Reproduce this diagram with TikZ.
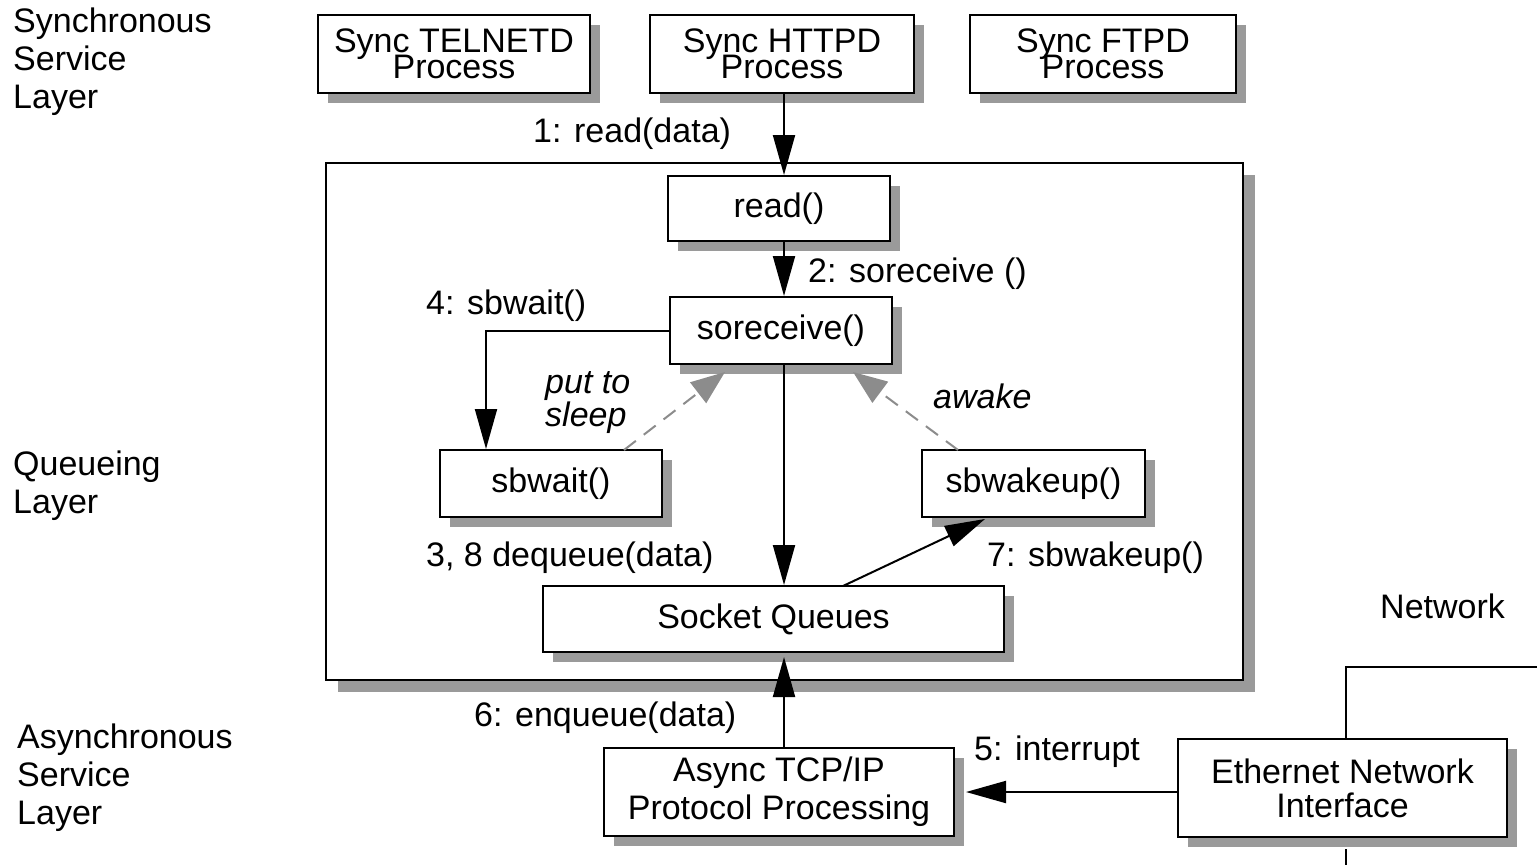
\documentclass[tikz,border=0pt]{standalone}
\usepackage{fontspec}
\setmainfont{Liberation Sans}
\usetikzlibrary{arrows.meta,shadows,calc}
\definecolor{shadowgray}{HTML}{9A9A9A}
\definecolor{dashgray}{HTML}{8C8C8C}
\newcommand{\fsz}[1]{\fontsize{34}{#1}\selectfont\lineskiplimit=-60pt\relax}
\tikzset{
  txt/.style={font=\fsz{26}},
  box/.style={draw, line width=2pt, fill=white, align=center, inner sep=0pt, txt,
    drop shadow={shadow xshift=10pt, shadow yshift=-10pt, fill=shadowgray, opacity=1}},
  lbl/.style={inner sep=0pt, anchor=west, txt},
  arr/.style={line width=2pt, -{Triangle[length=40pt,width=22pt]}},
  darr/.style={line width=2pt, dashgray, dash pattern=on 15pt off 10pt, -{Triangle[length=34pt,width=26pt]}},
  plain/.style={line width=2pt},
}
\begin{document}
\begin{tikzpicture}[x=1pt,y=-1pt]
\useasboundingbox (0,0) rectangle (1537,865);
% big queueing box
\node[draw, line width=2pt, fill=white, minimum width=917pt, minimum height=517pt, inner sep=0pt,
  drop shadow={shadow xshift=12pt, shadow yshift=-12pt, fill=shadowgray, opacity=1}] (qbox) at (784.5,421.5) {};
% top processes
\node[box, minimum width=272pt, minimum height=78pt, font=\fsz{26}] (telnet) at (454,54) {Sync TELNETD\\Process};
\node[box, minimum width=264pt, minimum height=78pt, font=\fsz{26}] (http) at (782,54) {Sync HTTPD\\Process};
\node[box, minimum width=266pt, minimum height=78pt, font=\fsz{26}] (ftp) at (1103,54) {Sync FTPD\\Process};
% queueing layer boxes
\node[box, minimum width=222pt, minimum height=65pt] (read) at (779,208.5) {read()};
\node[box, minimum width=222pt, minimum height=67pt] (sorecv) at (781,330.5) {soreceive()};
\node[box, minimum width=222pt, minimum height=67pt] (sbwait) at (551,483.5) {sbwait()};
\node[box, minimum width=223pt, minimum height=67pt] (sbwake) at (1033.5,483.5) {sbwakeup()};
\node[box, minimum width=461pt, minimum height=66pt] (sockq) at (773.5,619) {Socket Queues};
% async layer
\node[box, minimum width=350pt, minimum height=88pt, font=\fsz{38}] (async) at (779,792) {Async TCP/IP\\Protocol Processing};
\node[box, minimum width=329pt, minimum height=98pt, font=\fsz{34}] (eth) at (1342.5,788) {Ethernet Network\\Interface};
% layer labels
\node[lbl, align=left, font=\fsz{38}] (lsync) at (13,62) {Synchronous\\Service\\Layer};
\node[lbl, align=left, font=\fsz{38}] (lqueue) at (13,486) {Queueing\\Layer};
\node[lbl, align=left, font=\fsz{38}] (lasync) at (17,778) {Asynchronous\\Service\\Layer};
% helper coordinates
\coordinate (vx) at (784,0);
\coordinate (wx) at (486,0);
\coordinate (q7a) at (843,586);
\coordinate (q7b) at (985,519);
\coordinate (d1a) at (624,450);
\coordinate (d1b) at (725,372);
\coordinate (d2a) at (958,450);
\coordinate (d2b) at (853,372);
\coordinate (netc) at (1346,667);
\coordinate (nete) at (1537,667);
\coordinate (netb) at (1346,865);
% connectors
\draw[arr] (http.south -| vx) -- (read.north -| vx);
\draw[arr] (read.south -| vx) -- (sorecv.north -| vx);
\draw[arr] (sorecv.west) -| (sbwait.north -| wx);
\draw[arr] (sorecv.south -| vx) -- (sockq.north -| vx);
\draw[arr] (q7a) -- (q7b);
\draw[arr] (async.north -| vx) -- ($(sockq.south -| vx)+(0,4)$);
\draw[arr] (eth.west |- async.east) -- ($(async.east)+(11,0)$);
\draw[darr] (d1a) -- (d1b);
\draw[darr] (d2a) -- (d2b);
\draw[plain] (eth.north -| netc) -- (netc) -- (nete);
\draw[plain] ($(eth.south -| netb)+(0,11)$) -- (netb);
% labels
\node[lbl] (l1) at (533,134) {1: read(data)};
\node[lbl] (l2) at (808,274) {2: soreceive ()};
\node[lbl] (l4) at (426,306) {4: sbwait()};
\node[lbl, align=left, font=\fsz{33}\itshape] (lsleep) at (545,403) {put to\\sleep};
\node[lbl, font=\fsz{26}\itshape] (lawake) at (933,396) {awake};
\node[lbl] (l3) at (426,558) {3, 8 dequeue(data)};
\node[lbl] (l7) at (987,558) {7: sbwakeup()};
\node[lbl] (lnet) at (1380,606) {Network};
\node[lbl] (l6) at (474,718) {6: enqueue(data)};
\node[lbl] (l5) at (974,752) {5: interrupt};
\end{tikzpicture}
\end{document}
